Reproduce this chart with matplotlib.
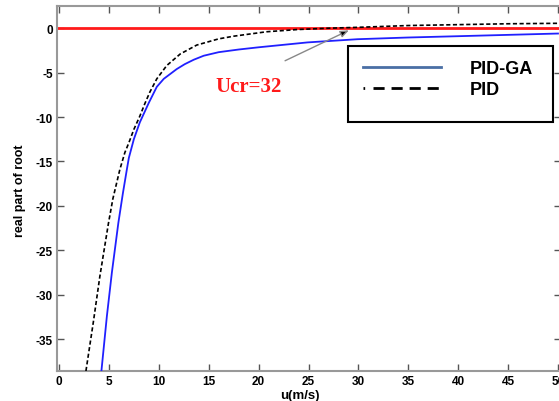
import matplotlib
matplotlib.use("Agg")
import matplotlib.pyplot as plt
from matplotlib.lines import Line2D
from matplotlib.patches import Rectangle

# Data
u_pid = [2.7, 3.44, 4.1, 4.95, 5.4, 6.1, 6.6, 7.0, 7.5, 8.1, 8.6, 9.1, 9.8, 10.8, 12.15,
         13.8, 16.0, 17.5, 20.8, 23.9, 27, 30, 35, 40, 45, 50]
re_pid = [-38.6, -33.1, -27.9, -22.0, -19.2, -15.9, -14.0, -12.9, -11.4, -9.9, -8.5, -7.2,
          -5.7, -4.2, -2.9, -1.9, -1.2, -0.9, -0.4, -0.15, 0.0, 0.1, 0.3, 0.4, 0.5, 0.55]
u_ga = [4.25, 4.8, 5.3, 5.95, 6.4, 6.8, 7.0, 7.5, 8.1, 9.0, 9.8, 10.5, 11.8, 12.6, 13.5,
        14.5, 16.0, 18.0, 20, 24.9, 29.9, 34.9, 40, 45, 50]
re_ga = [-38.6, -32.4, -27.5, -21.9, -18.6, -15.9, -14.6, -12.5, -10.6, -8.4, -6.6, -5.7,
         -4.6, -4.05, -3.55, -3.1, -2.7, -2.4, -2.15, -1.6, -1.24, -1.05, -0.9, -0.75, -0.6]
xticks = [0, 5, 10, 15, 20, 25, 30, 35, 40, 45, 50]
yticks = [0, -5, -10, -15, -20, -25, -30, -35]
u_cr = 32

plt.rcParams['font.family'] = ['Liberation Sans', 'DejaVu Sans']
plt.rcParams['axes.unicode_minus'] = False
fig = plt.figure(figsize=(5.59, 4.02), dpi=100)
W, H = 559, 402
L, R, T, B = 57, 561, 7, 372
AW, AH = R - L, B - T
ax = fig.add_axes([L / W, 1 - B / H, AW / W, AH / H])


def px2ax(x, y):
    return (x - L) / AW, (B - y) / AH


ax.axhline(0, color='#ff1a1a', lw=2, zorder=2)
ax.plot(u_ga, re_ga, color='#2020ff', lw=1.3, zorder=3)
ax.plot(u_pid, re_pid, color='black', lw=1.2, ls=(0, (2.5, 1.5)), zorder=4)

ax.set_xlim(-0.2, 50.3)
ax.set_ylim(-38.6, 2.5)
ax.set_xticks(xticks)
ax.set_yticks(yticks)
ax.tick_params(direction='in', top=True, right=True, length=5, width=1,
               color='#555555', labelsize=8.5, pad=3)
for lab in ax.get_xticklabels() + ax.get_yticklabels():
    lab.set_fontweight('bold')
for s in ax.spines.values():
    s.set_color('#999999')
    s.set_linewidth(1.5)

ax.set_xlabel('u(m/s)', fontsize=9.5, fontweight='bold')
ax.xaxis.set_label_coords(*px2ax(300, 390))
ax.set_ylabel('real part of root', fontsize=9, fontweight='bold')
ax.yaxis.set_label_coords(*px2ax(26, 191))

# annotation
ax.text(19.0, -6.5, 'Ucr=%d' % u_cr, color='#ff1a1a', fontsize=15, fontweight='bold',
        family='Liberation Serif', ha='center', va='center')
ax.annotate('', xy=(29.3, -0.1), xytext=(22.4, -3.8),
            arrowprops=dict(arrowstyle='-|>,head_length=0.5,head_width=0.2',
                            ec='#888888', fc='black', lw=1))

# legend frame
x0, y0 = px2ax(348, 123)
x1, y1 = px2ax(553, 47)
ax.add_patch(Rectangle((x0, y0), x1 - x0, y1 - y0, transform=ax.transAxes,
                       fc='white', ec='black', lw=1.5, zorder=6, clip_on=False))

handles = [Line2D([], [], color='#4a6fa5', lw=2),
           Line2D([], [], color='black', lw=2, dashes=(0.6, 3, 4, 2.5, 4, 2.5, 4, 2.5, 4, 2.5))]
leg = ax.legend(handles, ['PID-GA', 'PID'], loc='upper left',
                bbox_to_anchor=px2ax(363, 61),
                prop=dict(weight='bold', size=13), handlelength=4.3, handletextpad=1.6,
                borderpad=0, labelspacing=0.22, frameon=False, borderaxespad=0)
leg.set_zorder(7)

fig.savefig('out.png', dpi=100)
